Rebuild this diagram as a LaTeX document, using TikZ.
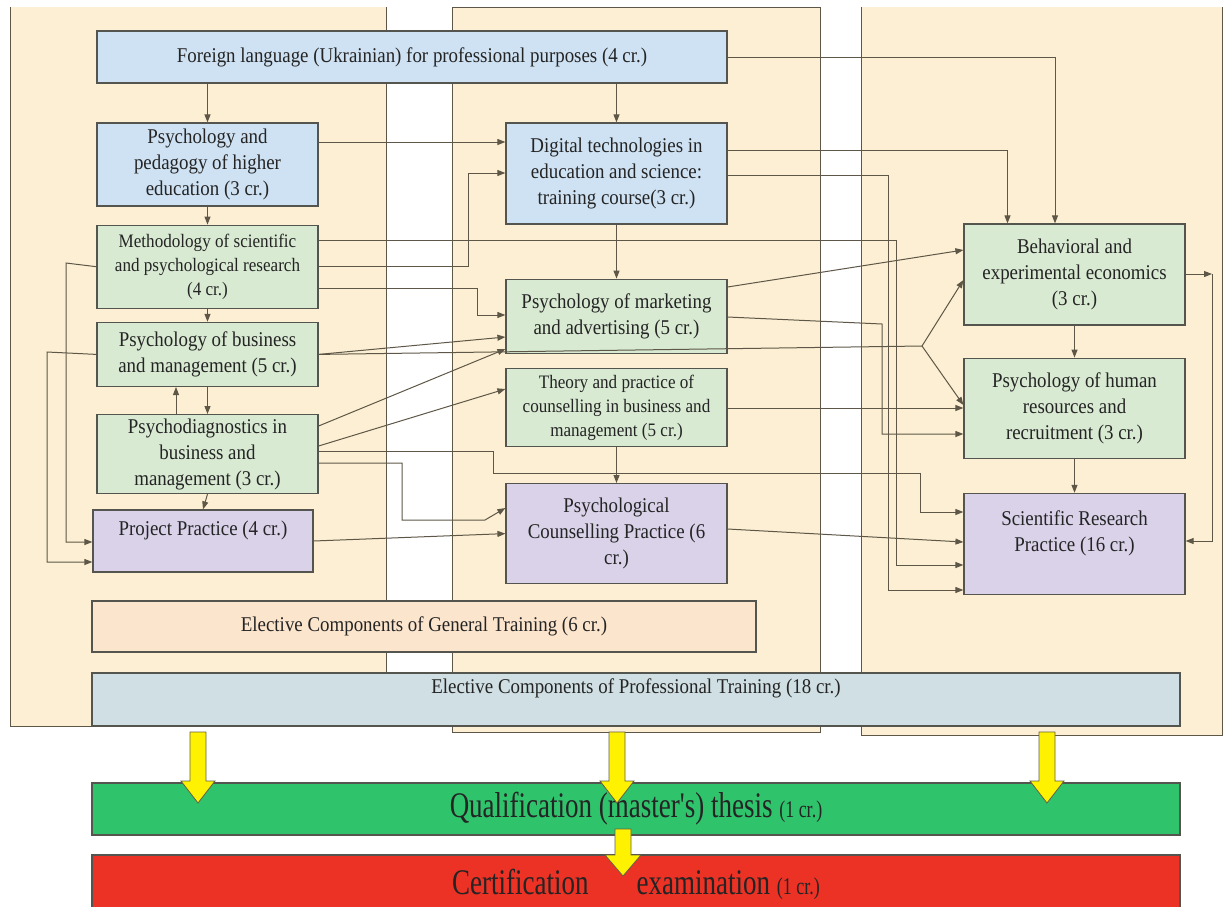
\documentclass[tikz,border=0pt]{standalone}
\usepackage{fontspec}
\setmainfont{Liberation Serif}[FakeStretch=0.9]
\newfontfamily\tallfont{Liberation Serif}[FakeStretch=0.75]
\usetikzlibrary{positioning,arrows.meta}
\definecolor{panelc}{HTML}{FDEFD3}
\definecolor{bluec}{HTML}{CFE2F3}
\definecolor{greenc}{HTML}{D9EAD3}
\definecolor{purplec}{HTML}{D9D2E9}
\definecolor{peachc}{HTML}{FCE5CD}
\definecolor{greyc}{HTML}{D0DFE3}
\definecolor{thesisc}{HTML}{2FC46C}
\definecolor{examc}{HTML}{EC3125}
\definecolor{linkc}{HTML}{5E5747}
\definecolor{edgec}{HTML}{55554F}
\definecolor{textc}{HTML}{242424}
\begin{document}
\begin{tikzpicture}[x=1pt, y=-1pt, color=linkc, line width=1pt,
    >={Triangle[length=8pt,width=6pt]},
    main/.style = {draw=edgec, line width=1.2pt, text=textc, align=center, inner sep=2pt,
                   minimum width=221pt, font=\fontsize{21}{26}\selectfont},
    bluebox/.style = {main, fill=bluec},
    greenbox/.style = {main, fill=greenc},
    practice/.style = {main, fill=purplec},
    smalltext/.style = {font=\fontsize{19}{24}\selectfont},
    yarrow/.style = {draw=black!70!yellow, fill=yellow, line width=0.8pt}]
    \useasboundingbox (0,0) rectangle (1226,906);
    % three semester columns
    \fill[panelc] (10,7) rectangle (386,726);
    \draw (10,7) -- (10,726) -- (386,726) -- (386,7);
    \draw[fill=panelc] (452,7) rectangle (820,732);
    \fill[panelc] (861,7) rectangle (1222,735);
    \draw (861,7) -- (861,735) -- (1222,735) -- (1222,7);
    % courses
    \node[bluebox, minimum width=630pt, minimum height=52pt] (0) at (412,57) {Foreign language (Ukrainian) for professional purposes (4 cr.)};
    \node[bluebox, minimum height=83pt] (1) at (207.5,164.5) {Psychology and\\pedagogy of higher\\education (3 cr.)};
    \node[greenbox, smalltext, minimum height=83pt] (2) [below=18pt of 1] {Methodology of scientific\\and psychological research\\(4 cr.)};
    \node[greenbox, minimum height=64pt] (3) [below=13pt of 2] {Psychology of business\\and management (5 cr.)};
    \node[greenbox, minimum height=79pt] (4) [below=27pt of 3] {Psychodiagnostics in\\business and\\management (3 cr.)};
    \node[practice, minimum width=220pt, minimum height=62pt] (5) at (203,541) {Project Practice (4 cr.)\\\mbox{}};
    \node[bluebox, minimum height=101pt] (6) at (616.5,173.5) {Digital technologies in\\education and science:\\training course(3 cr.)};
    \node[greenbox, minimum height=74pt] (7) [below=54pt of 6] {Psychology of marketing\\and advertising (5 cr.)};
    \node[greenbox, smalltext, minimum height=78pt] (8) [below=14pt of 7] {Theory and practice of\\counselling in business and\\management (5 cr.)};
    \node[practice, minimum height=100pt] (9) [below=36pt of 8] {Psychological\\Counselling Practice (6\\cr.)};
    \node[greenbox, minimum height=101pt] (10) at (1074.5,274.5) {Behavioral and\\experimental economics\\(3 cr.)};
    \node[greenbox, minimum height=100pt] (11) [below=32pt of 10] {Psychology of human\\resources and\\recruitment (3 cr.)};
    \node[practice, minimum height=101pt] (12) [below=34pt of 11] {Scientific Research\\Practice (16 cr.)\\\mbox{}};
    \node[main, fill=peachc, minimum width=664pt, minimum height=51pt] (13) at (424,626.5) {Elective Components of General Training (6 cr.)};
    \node[main, fill=greyc, minimum width=1088pt, minimum height=53pt] (14) at (636,699.5) {Elective Components of Professional Training (18 cr.)\\\mbox{}};
    \node[main, fill=thesisc, minimum width=1088pt, minimum height=52pt, font=\tallfont\fontsize{36}{40}\selectfont] (15) at (636,809) {Qualification (master's) thesis {\fontsize{24}{26}\selectfont(1 cr.)}};
    \node[main, fill=examc, minimum width=1088pt, minimum height=58pt, font=\tallfont\fontsize{36}{40}\selectfont] (16) at (636,884) {Certification\hspace{48pt}examination {\fontsize{24}{26}\selectfont(1 cr.)}};
    % links
    \coordinate (f) at (922,346);
    \coordinate (c) at (1212,274);
    \draw[->] (0.south -| 1) -- (1);
    \draw[->] (0.south -| 6) -- (6);
    \draw[->] (0.east) -| ([xshift=-19.5pt]10.north);
    \draw[->] (1) -- (2);
    \draw[->] (1.east |- 0,142) -- (6.west |- 0,142);
    \draw[->] (6.east |- 0,150) -| ([xshift=-67pt]10.north);
    \draw[->] (6.east |- 0,175) -| (888,590) -- (12.west |- 0,590);
    \draw[->] (2) -- (3);
    \draw[->] (2.east |- 0,240) -| (896,565) -- (12.west |- 0,565);
    \draw[->] (2.east |- 0,266) -| (468,173) -- (6.west |- 0,173);
    \draw[->] (2.east |- 0,288) -| (477,315) -- (7.west |- 0,315);
    \draw[->] (2.west) -- (66,263) |- (5.west |- 0,542);
    \draw[->] (3.west) -- (47,352) |- (5.west |- 0,562);
    \draw[->] (3) -- (4);
    \draw[->] (4.north -| 176,0) -- (3.south -| 176,0);
    \draw[->] (3.east) -- (7.west |- 0,337);
    \draw (3.east) -- (f);
    \draw[->] (f) -- (10.west |- 0,280);
    \draw[->] (f) -- (11.west |- 0,405);
    \draw[->] (4.south) -- (5.north);
    \draw[->] (4.east |- 0,426) -- (7.west |- 0,349);
    \draw[->] (4.east |- 0,446) -- (8.west |- 0,389);
    \draw[->] (4.east |- 0,451) -| (493,473) -| (920,512) -- (12.west |- 0,512);
    \draw[->] (4.east |- 0,463) -| (402,520) -- (485,520) -- (9.west |- 0,508);
    \draw[->] (5.east) -- (9.west);
    \draw[->] (6) -- (7);
    \draw[->] (7.east |- 0,287) -- (10.west |- 0,250);
    \draw[->] (7.east |- 0,317) -- (882,324) |- (11.west |- 0,434);
    \draw[->] (8) -- (9);
    \draw[->] (8.east |- 0,408) -- (11.west |- 0,408);
    \draw[->] (9.east |- 0,529) -- (12.west |- 0,542);
    \draw[->] (10) -- (11);
    \draw[->] (11) -- (12);
    \draw[->] (10.east |- c) -- (c);
    \draw[->] (c) |- (12.east |- 0,541);
    % big arrows to the thesis and the examination
    \foreach \x in {198,617,1047}
        \draw[yarrow] (\x-8,732) -- (\x+8,732) -- (\x+8,781) -- (\x+17,781) -- (\x,803) -- (\x-17,781) -- (\x-8,781) -- cycle;
    \draw[yarrow] (615,829) -- (631,829) -- (631,855) -- (641,855) -- (623,876) -- (605,855) -- (615,855) -- cycle;
\end{tikzpicture}
\end{document}
